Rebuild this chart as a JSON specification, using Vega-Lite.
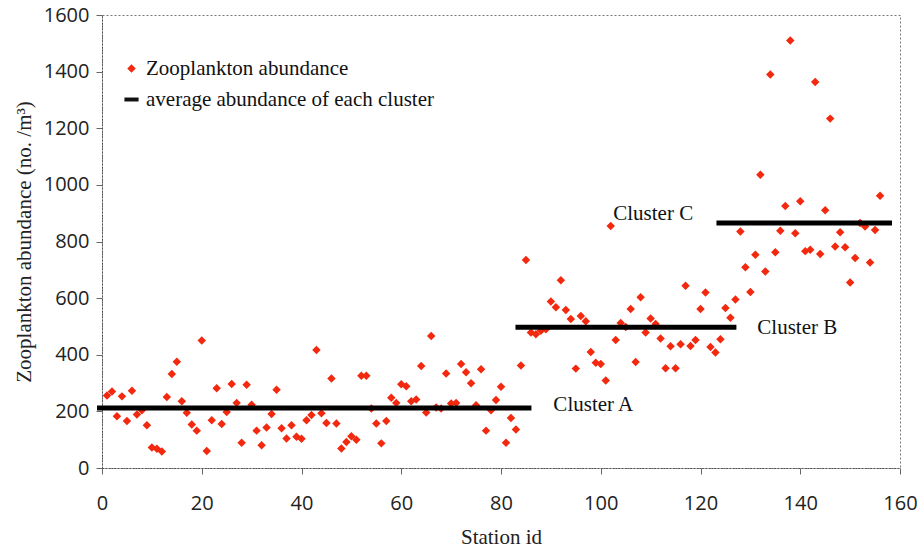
{
  "$schema": "https://vega.github.io/schema/vega-lite/v6.json",
  "autosize": {"type": "none"},
  "width": 798,
  "height": 453,
  "padding": {"left": 102, "top": 15, "right": 24, "bottom": 83},
  "background": "white",
  "config": {
    "view": {"stroke": "#777", "strokeDash": [2, 2], "strokeWidth": 1},
    "axis": {
      "grid": false,
      "domainColor": "#555",
      "domainDash": [2, 1],
      "tickColor": "#666",
      "tickSize": 6,
      "labelFont": "Open Sans",
      "labelFontSize": 20,
      "labelColor": "#222",
      "titleFont": "Liberation Serif",
      "titleFontSize": 21,
      "titleFontWeight": "normal",
      "titleColor": "#222"
    }
  },
  "datasets": {
    "stations": [
      {"station": 1, "abundance": 256, "series": "Zooplankton abundance"},
      {"station": 2, "abundance": 270, "series": "Zooplankton abundance"},
      {"station": 3, "abundance": 183, "series": "Zooplankton abundance"},
      {"station": 4, "abundance": 253, "series": "Zooplankton abundance"},
      {"station": 5, "abundance": 166, "series": "Zooplankton abundance"},
      {"station": 6, "abundance": 273, "series": "Zooplankton abundance"},
      {"station": 7, "abundance": 189, "series": "Zooplankton abundance"},
      {"station": 8, "abundance": 204, "series": "Zooplankton abundance"},
      {"station": 9, "abundance": 151, "series": "Zooplankton abundance"},
      {"station": 10, "abundance": 72, "series": "Zooplankton abundance"},
      {"station": 11, "abundance": 68, "series": "Zooplankton abundance"},
      {"station": 12, "abundance": 58, "series": "Zooplankton abundance"},
      {"station": 13, "abundance": 251, "series": "Zooplankton abundance"},
      {"station": 14, "abundance": 332, "series": "Zooplankton abundance"},
      {"station": 15, "abundance": 375, "series": "Zooplankton abundance"},
      {"station": 16, "abundance": 236, "series": "Zooplankton abundance"},
      {"station": 17, "abundance": 195, "series": "Zooplankton abundance"},
      {"station": 18, "abundance": 154, "series": "Zooplankton abundance"},
      {"station": 19, "abundance": 132, "series": "Zooplankton abundance"},
      {"station": 20, "abundance": 450, "series": "Zooplankton abundance"},
      {"station": 21, "abundance": 60, "series": "Zooplankton abundance"},
      {"station": 22, "abundance": 169, "series": "Zooplankton abundance"},
      {"station": 23, "abundance": 282, "series": "Zooplankton abundance"},
      {"station": 24, "abundance": 155, "series": "Zooplankton abundance"},
      {"station": 25, "abundance": 198, "series": "Zooplankton abundance"},
      {"station": 26, "abundance": 297, "series": "Zooplankton abundance"},
      {"station": 27, "abundance": 230, "series": "Zooplankton abundance"},
      {"station": 28, "abundance": 89, "series": "Zooplankton abundance"},
      {"station": 29, "abundance": 294, "series": "Zooplankton abundance"},
      {"station": 30, "abundance": 223, "series": "Zooplankton abundance"},
      {"station": 31, "abundance": 132, "series": "Zooplankton abundance"},
      {"station": 32, "abundance": 80, "series": "Zooplankton abundance"},
      {"station": 33, "abundance": 143, "series": "Zooplankton abundance"},
      {"station": 34, "abundance": 191, "series": "Zooplankton abundance"},
      {"station": 35, "abundance": 276, "series": "Zooplankton abundance"},
      {"station": 36, "abundance": 140, "series": "Zooplankton abundance"},
      {"station": 37, "abundance": 104, "series": "Zooplankton abundance"},
      {"station": 38, "abundance": 151, "series": "Zooplankton abundance"},
      {"station": 39, "abundance": 110, "series": "Zooplankton abundance"},
      {"station": 40, "abundance": 103, "series": "Zooplankton abundance"},
      {"station": 41, "abundance": 169, "series": "Zooplankton abundance"},
      {"station": 42, "abundance": 187, "series": "Zooplankton abundance"},
      {"station": 43, "abundance": 417, "series": "Zooplankton abundance"},
      {"station": 44, "abundance": 193, "series": "Zooplankton abundance"},
      {"station": 45, "abundance": 159, "series": "Zooplankton abundance"},
      {"station": 46, "abundance": 316, "series": "Zooplankton abundance"},
      {"station": 47, "abundance": 157, "series": "Zooplankton abundance"},
      {"station": 48, "abundance": 69, "series": "Zooplankton abundance"},
      {"station": 49, "abundance": 92, "series": "Zooplankton abundance"},
      {"station": 50, "abundance": 112, "series": "Zooplankton abundance"},
      {"station": 51, "abundance": 100, "series": "Zooplankton abundance"},
      {"station": 52, "abundance": 326, "series": "Zooplankton abundance"},
      {"station": 53, "abundance": 326, "series": "Zooplankton abundance"},
      {"station": 54, "abundance": 210, "series": "Zooplankton abundance"},
      {"station": 55, "abundance": 157, "series": "Zooplankton abundance"},
      {"station": 56, "abundance": 87, "series": "Zooplankton abundance"},
      {"station": 57, "abundance": 166, "series": "Zooplankton abundance"},
      {"station": 58, "abundance": 248, "series": "Zooplankton abundance"},
      {"station": 59, "abundance": 230, "series": "Zooplankton abundance"},
      {"station": 60, "abundance": 296, "series": "Zooplankton abundance"},
      {"station": 61, "abundance": 289, "series": "Zooplankton abundance"},
      {"station": 62, "abundance": 236, "series": "Zooplankton abundance"},
      {"station": 63, "abundance": 242, "series": "Zooplankton abundance"},
      {"station": 64, "abundance": 360, "series": "Zooplankton abundance"},
      {"station": 65, "abundance": 196, "series": "Zooplankton abundance"},
      {"station": 66, "abundance": 466, "series": "Zooplankton abundance"},
      {"station": 67, "abundance": 214, "series": "Zooplankton abundance"},
      {"station": 68, "abundance": 210, "series": "Zooplankton abundance"},
      {"station": 69, "abundance": 334, "series": "Zooplankton abundance"},
      {"station": 70, "abundance": 228, "series": "Zooplankton abundance"},
      {"station": 71, "abundance": 230, "series": "Zooplankton abundance"},
      {"station": 72, "abundance": 367, "series": "Zooplankton abundance"},
      {"station": 73, "abundance": 338, "series": "Zooplankton abundance"},
      {"station": 74, "abundance": 299, "series": "Zooplankton abundance"},
      {"station": 75, "abundance": 222, "series": "Zooplankton abundance"},
      {"station": 76, "abundance": 349, "series": "Zooplankton abundance"},
      {"station": 77, "abundance": 132, "series": "Zooplankton abundance"},
      {"station": 78, "abundance": 204, "series": "Zooplankton abundance"},
      {"station": 79, "abundance": 240, "series": "Zooplankton abundance"},
      {"station": 80, "abundance": 287, "series": "Zooplankton abundance"},
      {"station": 81, "abundance": 89, "series": "Zooplankton abundance"},
      {"station": 82, "abundance": 177, "series": "Zooplankton abundance"},
      {"station": 83, "abundance": 136, "series": "Zooplankton abundance"},
      {"station": 84, "abundance": 362, "series": "Zooplankton abundance"},
      {"station": 85, "abundance": 735, "series": "Zooplankton abundance"},
      {"station": 86, "abundance": 479, "series": "Zooplankton abundance"},
      {"station": 87, "abundance": 472, "series": "Zooplankton abundance"},
      {"station": 88, "abundance": 485, "series": "Zooplankton abundance"},
      {"station": 89, "abundance": 490, "series": "Zooplankton abundance"},
      {"station": 90, "abundance": 588, "series": "Zooplankton abundance"},
      {"station": 91, "abundance": 568, "series": "Zooplankton abundance"},
      {"station": 92, "abundance": 663, "series": "Zooplankton abundance"},
      {"station": 93, "abundance": 558, "series": "Zooplankton abundance"},
      {"station": 94, "abundance": 526, "series": "Zooplankton abundance"},
      {"station": 95, "abundance": 351, "series": "Zooplankton abundance"},
      {"station": 96, "abundance": 537, "series": "Zooplankton abundance"},
      {"station": 97, "abundance": 518, "series": "Zooplankton abundance"},
      {"station": 98, "abundance": 410, "series": "Zooplankton abundance"},
      {"station": 99, "abundance": 372, "series": "Zooplankton abundance"},
      {"station": 100, "abundance": 367, "series": "Zooplankton abundance"},
      {"station": 101, "abundance": 309, "series": "Zooplankton abundance"},
      {"station": 102, "abundance": 855, "series": "Zooplankton abundance"},
      {"station": 103, "abundance": 452, "series": "Zooplankton abundance"},
      {"station": 104, "abundance": 512, "series": "Zooplankton abundance"},
      {"station": 105, "abundance": 498, "series": "Zooplankton abundance"},
      {"station": 106, "abundance": 562, "series": "Zooplankton abundance"},
      {"station": 107, "abundance": 374, "series": "Zooplankton abundance"},
      {"station": 108, "abundance": 603, "series": "Zooplankton abundance"},
      {"station": 109, "abundance": 479, "series": "Zooplankton abundance"},
      {"station": 110, "abundance": 528, "series": "Zooplankton abundance"},
      {"station": 111, "abundance": 509, "series": "Zooplankton abundance"},
      {"station": 112, "abundance": 457, "series": "Zooplankton abundance"},
      {"station": 113, "abundance": 352, "series": "Zooplankton abundance"},
      {"station": 114, "abundance": 430, "series": "Zooplankton abundance"},
      {"station": 115, "abundance": 352, "series": "Zooplankton abundance"},
      {"station": 116, "abundance": 437, "series": "Zooplankton abundance"},
      {"station": 117, "abundance": 644, "series": "Zooplankton abundance"},
      {"station": 118, "abundance": 431, "series": "Zooplankton abundance"},
      {"station": 119, "abundance": 452, "series": "Zooplankton abundance"},
      {"station": 120, "abundance": 562, "series": "Zooplankton abundance"},
      {"station": 121, "abundance": 620, "series": "Zooplankton abundance"},
      {"station": 122, "abundance": 427, "series": "Zooplankton abundance"},
      {"station": 123, "abundance": 408, "series": "Zooplankton abundance"},
      {"station": 124, "abundance": 455, "series": "Zooplankton abundance"},
      {"station": 125, "abundance": 565, "series": "Zooplankton abundance"},
      {"station": 126, "abundance": 531, "series": "Zooplankton abundance"},
      {"station": 127, "abundance": 595, "series": "Zooplankton abundance"},
      {"station": 128, "abundance": 835, "series": "Zooplankton abundance"},
      {"station": 129, "abundance": 709, "series": "Zooplankton abundance"},
      {"station": 130, "abundance": 622, "series": "Zooplankton abundance"},
      {"station": 131, "abundance": 753, "series": "Zooplankton abundance"},
      {"station": 132, "abundance": 1036, "series": "Zooplankton abundance"},
      {"station": 133, "abundance": 694, "series": "Zooplankton abundance"},
      {"station": 134, "abundance": 1390, "series": "Zooplankton abundance"},
      {"station": 135, "abundance": 762, "series": "Zooplankton abundance"},
      {"station": 136, "abundance": 838, "series": "Zooplankton abundance"},
      {"station": 137, "abundance": 925, "series": "Zooplankton abundance"},
      {"station": 138, "abundance": 1510, "series": "Zooplankton abundance"},
      {"station": 139, "abundance": 829, "series": "Zooplankton abundance"},
      {"station": 140, "abundance": 942, "series": "Zooplankton abundance"},
      {"station": 141, "abundance": 766, "series": "Zooplankton abundance"},
      {"station": 142, "abundance": 771, "series": "Zooplankton abundance"},
      {"station": 143, "abundance": 1363, "series": "Zooplankton abundance"},
      {"station": 144, "abundance": 756, "series": "Zooplankton abundance"},
      {"station": 145, "abundance": 910, "series": "Zooplankton abundance"},
      {"station": 146, "abundance": 1234, "series": "Zooplankton abundance"},
      {"station": 147, "abundance": 782, "series": "Zooplankton abundance"},
      {"station": 148, "abundance": 833, "series": "Zooplankton abundance"},
      {"station": 149, "abundance": 780, "series": "Zooplankton abundance"},
      {"station": 150, "abundance": 655, "series": "Zooplankton abundance"},
      {"station": 151, "abundance": 742, "series": "Zooplankton abundance"},
      {"station": 152, "abundance": 865, "series": "Zooplankton abundance"},
      {"station": 153, "abundance": 853, "series": "Zooplankton abundance"},
      {"station": 154, "abundance": 726, "series": "Zooplankton abundance"},
      {"station": 155, "abundance": 841, "series": "Zooplankton abundance"},
      {"station": 156, "abundance": 962, "series": "Zooplankton abundance"}
    ],
    "means": [
      {"cluster": "A", "start": -1, "end": 86.1, "mean": 212},
      {"cluster": "B", "start": 82.9, "end": 127.2, "mean": 497},
      {"cluster": "C", "start": 123.2, "end": 158.4, "mean": 865}
    ],
    "labels": [
      {"label": "Cluster A", "station": 90.5, "abundance": 224},
      {"label": "Cluster B", "station": 131.4, "abundance": 493},
      {"label": "Cluster C", "station": 102.5, "abundance": 898}
    ]
  },
  "layer": [
    {
      "data": {"name": "stations"},
      "mark": {"type": "point", "filled": true, "opacity": 1, "strokeWidth": 0},
      "encoding": {
        "x": {
          "field": "station",
          "type": "quantitative",
          "title": "Station id",
          "scale": {"domain": [0, 160], "nice": false, "zero": false},
          "axis": {"values": [0, 20, 40, 60, 80, 100, 120, 140, 160], "format": "d", "labelPadding": 19, "titlePadding": 13, "labelFlush": false, "titleFont": "Liberation Serif", "titleFontSize": 21, "titleFontWeight": "normal"}
        },
        "y": {
          "field": "abundance",
          "type": "quantitative",
          "title": "Zooplankton abundance (no. /m³)",
          "scale": {"domain": [0, 1600], "nice": false},
          "axis": {"values": [0, 200, 400, 600, 800, 1000, 1200, 1400, 1600], "format": "d", "labelPadding": 7, "titlePadding": 9, "labelFlush": false, "titleFont": "Liberation Serif", "titleFontSize": 21, "titleFontWeight": "normal"}
        },
        "color": {
          "field": "series",
          "type": "nominal",
          "scale": {"domain": ["Zooplankton abundance", "average abundance of each cluster"], "range": ["#f2290f", "#111111"]},
          "legend": {
            "orient": "none",
            "legendX": 19,
            "legendY": 43,
            "title": null,
            "labelFont": "Liberation Serif",
            "labelFontSize": 21,
            "labelColor": "#111",
            "labelLimit": 0,
            "labelOffset": 4,
            "rowPadding": 9,
            "padding": 0,
            "symbolStrokeWidth": 0
          }
        },
        "shape": {
          "field": "series",
          "type": "nominal",
          "scale": {"domain": ["Zooplankton abundance", "average abundance of each cluster"], "range": ["diamond", "M-1,-0.28L1,-0.28L1,0.28L-1,0.28Z"]}
        },
        "size": {
          "field": "series",
          "type": "nominal",
          "scale": {"domain": ["Zooplankton abundance", "average abundance of each cluster"], "range": [72, 200]}
        }
      }
    },
    {
      "data": {"name": "means"},
      "mark": {"type": "rule", "color": "#000", "strokeWidth": 5},
      "encoding": {
        "x": {"field": "start", "type": "quantitative"},
        "x2": {"field": "end"},
        "y": {"field": "mean", "type": "quantitative"}
      }
    },
    {
      "data": {"name": "labels"},
      "mark": {"type": "text", "align": "left", "baseline": "middle", "font": "Liberation Serif", "fontSize": 21, "color": "#111"},
      "encoding": {
        "x": {"field": "station", "type": "quantitative"},
        "y": {"field": "abundance", "type": "quantitative"},
        "text": {"field": "label"}
      }
    }
  ]
}
